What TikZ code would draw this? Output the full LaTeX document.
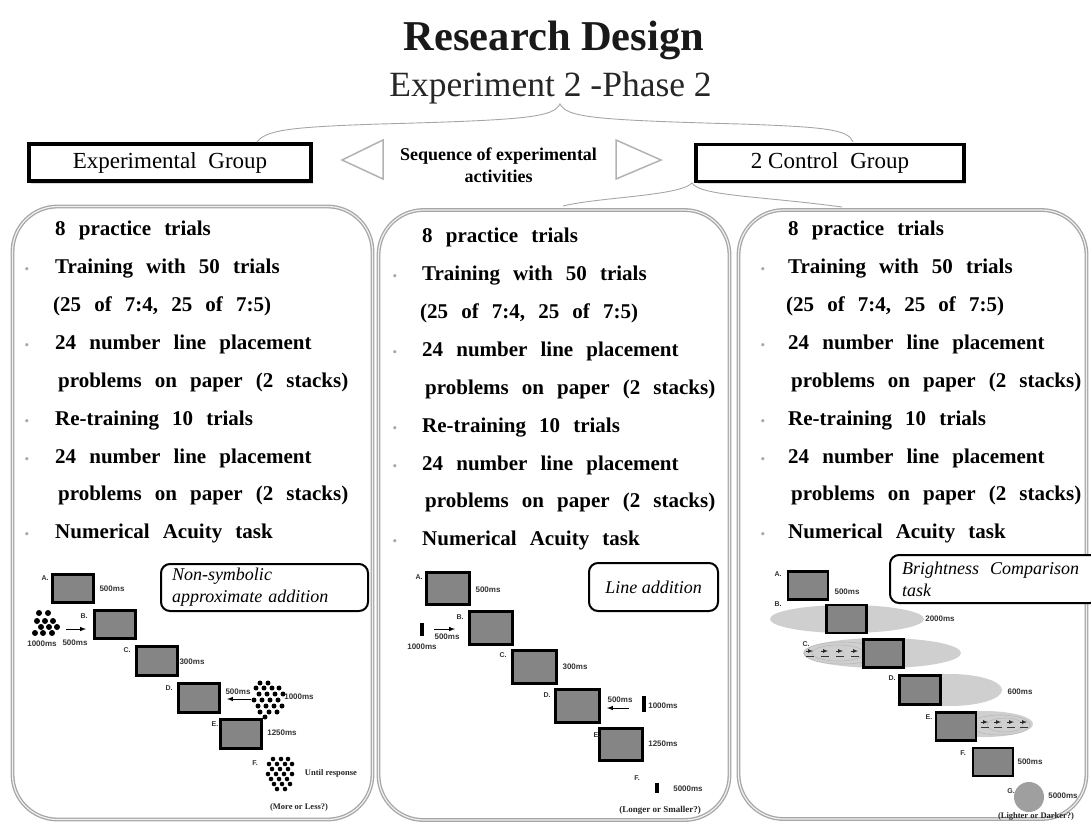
\documentclass[tikz,border=0pt]{standalone}
\usepackage{fontspec}
\setmainfont{Liberation Serif}
\newfontfamily\listfont[WordSpace=2.5]{Liberation Serif}
\newfontfamily\tagfont{Liberation Sans}
\usepackage{tikz}
\usetikzlibrary{shapes,arrows,positioning,calc,shadows}

\begin{document}
\begin{tikzpicture}[x=1pt, y=-1pt,
    groupbox/.style={rectangle, draw, line width=3.5pt, fill=white, minimum height=37pt, font=\fontsize{23}{26}\selectfont, drop shadow={opacity=0.3, shadow xshift=2pt, shadow yshift=-2.5pt}},
    panel/.style={rectangle, draw=gray!70, line width=1.3pt, double=gray!12, double distance=1.2pt, rounded corners=45pt, fill=white},
    item/.style={anchor=base west, inner sep=0pt, font=\listfont\bfseries\fontsize{21}{25}\selectfont},
    bulletmark/.style={anchor=base, inner sep=0pt, text=gray!70, font=\fontsize{13}{15}\selectfont},
    screen/.style={rectangle, draw, line width=2.6pt, fill=black!48, inner sep=0pt, minimum width=41.5pt, minimum height=28.5pt},
    ms/.style={inner sep=0pt, text=black!80, font=\tagfont\bfseries\fontsize{8}{9}\selectfont},
    stage/.style={inner sep=0pt, text=black!80, font=\tagfont\bfseries\fontsize{7}{8}\selectfont},
    query/.style={inner sep=0pt, text=black!85, font=\bfseries\fontsize{8.5}{10}\selectfont},
    tasklabel/.style={rectangle, draw, line width=2pt, rounded corners=9pt, fill=white, inner sep=0pt, font=\itshape\fontsize{18}{22}\selectfont},
    bar/.style={rectangle, fill=black, inner sep=0pt, minimum width=3.5pt},
    blob/.style={ellipse, fill=gray!38, inner sep=0pt},
    nest/.style={draw=gray!55, line width=0.6pt},
    cue/.style={-latex, line width=1pt}
]
    \useasboundingbox (0,0) rectangle (1091,825);

    % Heading
    \node[anchor=base, text=black!90, font=\bfseries\fontsize{42.5}{46}\selectfont] (title) at (554,50) {Research Design};
    \node[anchor=base, text=black!85, font=\fontsize{35.5}{40}\selectfont] (phase) at (550.5,96) {Experiment 2 -Phase 2};

    % Groups and sequence arrows
    \node[groupbox, minimum width=282pt] (expgroup) at (170,162.5) {Experimental\hspace{6pt} Group};
    \node[groupbox, minimum width=268pt] (ctrlgroup) at (830,163) {2 Control\hspace{6pt} Group};
    \draw[gray!60, line width=1.5pt, line join=miter] (383,140) -- (342,160) -- (383,179) -- cycle;
    \draw[gray!60, line width=1.5pt, line join=miter] (616,140) -- (661,160) -- (616,179) -- cycle;
    \node[anchor=base, align=center, inner sep=0pt, font=\bfseries\fontsize{18}{22}\selectfont] (seq) at (498.5,182) {Sequence of experimental\\activities};

    % Braces
    \coordinate (topL) at (257,142);
    \coordinate (topTip) at (560,104);
    \coordinate (topR) at (853,142);
    \draw[gray!70, line width=0.9pt] (topL) .. controls (266,130) and (290,127) .. (380,124)
        .. controls (530,120) and (553,117) .. (topTip)
        .. controls (567,117) and (590,120) .. (740,124)
        .. controls (830,127) and (848,130) .. (topR);
    \coordinate (lowL) at (563,206);
    \coordinate (lowTip) at (692,183);
    \coordinate (lowR) at (842,207);
    \draw[gray!70, line width=0.9pt] (lowL) .. controls (600,197) and (680,196) .. (lowTip)
        .. controls (700,196) and (760,196) .. (lowR);

    % Panels
    \node[panel, minimum width=360pt, minimum height=613pt] (lpanel) at (192.5,513) {};
    \node[panel, minimum width=351pt, minimum height=610pt] (mpanel) at (554,515) {};
    \node[panel, minimum width=348pt, minimum height=609pt] (rpanel) at (912.5,514.5) {};

    % Activity lists
    \foreach \pn/\tx/\ty/\bx in {l/55/235/27, m/422/242/395, r/788/235/763} {
        \node[item] (\pn1) at (\tx,\ty) {8 practice trials};
        \node[item] (\pn2) at (\tx,\ty+38) {Training with 50 trials};
        \node[item] (\pn3) at (\tx-2,\ty+76) {(25 of 7:4, 25 of 7:5)};
        \node[item] (\pn4) at (\tx,\ty+114) {24 number line placement};
        \node[item] (\pn5) at (\tx+3,\ty+152) {problems on paper (2 stacks)};
        \node[item] (\pn6) at (\tx,\ty+190) {Re-training 10 trials};
        \node[item] (\pn7) at (\tx,\ty+228) {24 number line placement};
        \node[item] (\pn8) at (\tx+3,\ty+265) {problems on paper (2 stacks)};
        \node[item] (\pn9) at (\tx,\ty+303) {Numerical Acuity task};
        \foreach \k in {38,114,190,228,303}
            \node[bulletmark] (\pn-b\k) at (\bx,\ty+\k) {\textbullet};
    }

    % Non-symbolic approximate addition
    \node[tasklabel, minimum width=207pt, minimum height=47pt, text width=185pt, align=left] (ltask) at (264.5,587.5) {Non-symbolic\\approximate addition};
    \node[screen] (lA) at (73,588.5) {};
    \node[screen] (lB) at (115,624.5) {};
    \node[screen] (lC) at (157,661) {};
    \node[screen] (lD) at (199,698) {};
    \node[screen] (lE) at (241,734) {};
    \node[stage] (lA-id) at (45,578) {A.};
    \node[stage] (lB-id) at (84,616) {B.};
    \node[stage] (lC-id) at (127,650) {C.};
    \node[stage] (lD-id) at (169,688) {D.};
    \node[stage] (lE-id) at (215,724) {E.};
    \node[stage] (lF-id) at (255,763) {F.};
    \foreach \p in {(39,613),(48,613),(37,621),(45,621),(53,621),(41,627),(49,627),(57,627),(35,633),(43,633),(52,633)}
        \fill \p circle (3pt);
    \foreach \p in {(260,683),(268,683),(256,688),(264,688),(272,688),(279,688),(259,694),(267,694),(275,694),(283,694),
                    (254,700),(262,700),(270,700),(278,700),(258,706),(266,706),(274,706),(282,706),(260,712),(269,712),(277,712),(265,717)}
        \fill \p circle (2.5pt);
    \foreach \p in {(273,759),(281,759),(288,759),(269,764),(277,764),(285,764),(292,764),(272,769),(280,769),(288,769),
                    (268,774),(276,774),(284,774),(292,774),(271,779),(279,779),(287,779),(274,784),(282,784),(290,784),(277,789),(285,789)}
        \fill \p circle (2.3pt);
    \coordinate (lB-from) at (66,629);
    \coordinate (lB-to) at (86,629);
    \draw[cue] (lB-from) -- (lB-to);
    \coordinate (lD-from) at (251,699);
    \coordinate (lD-to) at (227,699);
    \draw[cue] (lD-from) -- (lD-to);
    \node[ms] (lA-t) at (112,589) {500ms};
    \node[ms] (lB-t1) at (42,644) {1000ms};
    \node[ms] (lB-t2) at (75,643) {500ms};
    \node[ms] (lC-t) at (192,662) {300ms};
    \node[ms] (lD-t1) at (238,692) {500ms};
    \node[ms] (lD-t2) at (299,697) {1000ms};
    \node[ms] (lE-t) at (282,733) {1250ms};
    \node[query] (lF-t) at (331,773) {Until response};
    \node[query] (lq) at (299,807) {(More or Less?)};

    % Line addition
    \node[tasklabel, minimum width=129pt, minimum height=48pt] (mtask) at (653.5,587) {Line addition};
    \node[screen, minimum width=43.5pt, minimum height=32.5pt] (mA) at (448,588.5) {};
    \node[screen, minimum width=43.5pt, minimum height=32.5pt] (mB) at (491,628) {};
    \node[screen, minimum width=43.5pt, minimum height=32.5pt] (mC) at (534.5,667) {};
    \node[screen, minimum width=43.5pt, minimum height=32.5pt] (mD) at (577.5,706) {};
    \node[screen, minimum width=43.5pt, minimum height=32.5pt] (mE) at (621,744.5) {};
    \node[stage] (mA-id) at (419,577) {A.};
    \node[stage] (mB-id) at (460,617) {B.};
    \node[stage] (mC-id) at (503,655) {C.};
    \node[stage] (mD-id) at (547,695) {D.};
    \node[stage] (mE-id) at (597,735) {E.};
    \node[stage] (mF-id) at (637,778) {F.};
    \node[bar, minimum height=13pt] (mbar1) at (422,629.5) {};
    \node[bar, minimum height=16pt] (mbar2) at (644,704) {};
    \node[bar, minimum height=10pt] (mbar3) at (657,788) {};
    \coordinate (mB-from) at (434,629);
    \coordinate (mB-to) at (455,629);
    \draw[cue] (mB-from) -- (mB-to);
    \coordinate (mD-from) at (629,708);
    \coordinate (mD-to) at (607,708);
    \draw[cue] (mD-from) -- (mD-to);
    \node[ms] (mA-t) at (488,590) {500ms};
    \node[ms] (mB-t1) at (447,637) {500ms};
    \node[ms] (mB-t2) at (422,647) {1000ms};
    \node[ms] (mC-t) at (575,667) {300ms};
    \node[ms] (mD-t1) at (620,700) {500ms};
    \node[ms] (mD-t2) at (663,706) {1000ms};
    \node[ms] (mE-t) at (663,744) {1250ms};
    \node[ms] (mF-t) at (688,789) {5000ms};
    \node[query, font=\bfseries\fontsize{9}{10}\selectfont] (mq) at (660,810) {(Longer or Smaller?)};

    % Brightness comparison
    \node[blob, minimum width=154pt, minimum height=28pt] (rB-halo) at (847,619) {};
    \node[blob, minimum width=158pt, minimum height=30pt] (rC-halo) at (882,653) {};
    \node[blob, minimum width=104pt, minimum height=32pt] (rD-halo) at (950,690) {};
    \node[blob, minimum width=98pt, minimum height=26pt] (rE-halo) at (984,724) {};
    \draw[nest] (842,653) ellipse (38pt and 11pt);
    \draw[nest] (838,653) ellipse (26pt and 8pt);
    \draw[nest] (1000,725) ellipse (30pt and 10pt);
    \draw[nest] (1005,725) ellipse (18pt and 7pt);
    \foreach \x in {806,821,836,851} {
        \draw[line width=0.7pt, gray!30!black, -latex] (\x,651) -- ++(7,0);
        \draw[line width=0.9pt, gray!40!black] (\x,656) -- ++(8,0);
    }
    \foreach \x in {981,994,1007,1020} {
        \draw[line width=0.7pt, gray!30!black, -latex] (\x,722) -- ++(7,0);
        \draw[line width=0.9pt, gray!40!black] (\x,727) -- ++(8,0);
    }
    \node[tasklabel, minimum width=209pt, minimum height=48pt, text width=185pt, align=left] (rtask) at (994.5,579) {Brightness\hspace{5pt} Comparison\\task};
    \node[screen, minimum width=40pt, minimum height=28pt] (rA) at (808,585.5) {};
    \node[screen, minimum width=40pt, minimum height=28pt] (rB) at (846.5,619) {};
    \node[screen, minimum width=40pt, minimum height=28pt] (rC) at (883.5,653.5) {};
    \node[screen, minimum width=41pt, minimum height=29pt] (rD) at (920,690) {};
    \node[screen, minimum width=40pt, minimum height=28pt] (rE) at (956,726.5) {};
    \node[screen, minimum width=40pt, minimum height=28pt] (rF) at (993,762) {};
    \node[circle, fill=gray!75, minimum size=30pt, inner sep=0pt] (rG) at (1029,797) {};
    \node[stage] (rA-id) at (778,574) {A.};
    \node[stage] (rB-id) at (778,604) {B.};
    \node[stage] (rC-id) at (806,644) {C.};
    \node[stage] (rD-id) at (892,678) {D.};
    \node[stage] (rE-id) at (929,717) {E.};
    \node[stage] (rF-id) at (963,753) {F.};
    \node[stage] (rG-id) at (1011,791) {G.};
    \node[ms] (rA-t) at (847,592) {500ms};
    \node[ms] (rB-t) at (940,619) {2000ms};
    \node[ms] (rD-t) at (1020,692) {600ms};
    \node[ms] (rF-t) at (1030,762) {500ms};
    \node[ms] (rG-t) at (1063,796) {5000ms};
    \node[query] (rq) at (1036,816) {(Lighter or Darker?)};
\end{tikzpicture}
\end{document}
